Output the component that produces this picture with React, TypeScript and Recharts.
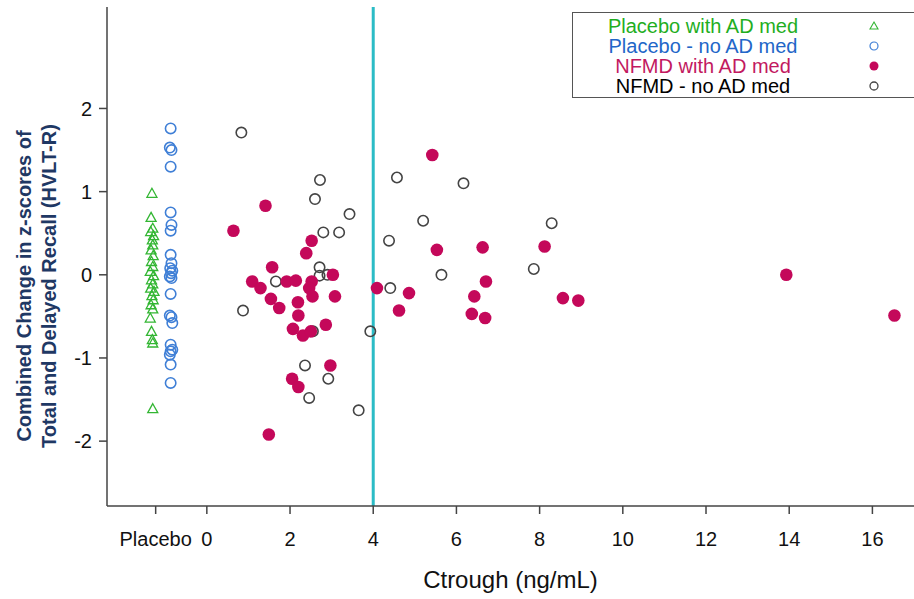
import React from 'react'
import { ScatterChart, Scatter, XAxis, YAxis, ReferenceLine, Legend } from 'recharts'

// Placebo groups sit left of 0 at a fake "Placebo" position
const placeboWithAdMed = [
  { x: -1.32, y: 0.98 }, { x: -1.34, y: 0.69 }, { x: -1.3, y: 0.56 }, { x: -1.35, y: 0.52 },
  { x: -1.28, y: 0.47 }, { x: -1.31, y: 0.42 }, { x: -1.3, y: 0.36 }, { x: -1.34, y: 0.3 },
  { x: -1.29, y: 0.23 }, { x: -1.33, y: 0.16 }, { x: -1.3, y: 0.1 }, { x: -1.36, y: 0.04 },
  { x: -1.28, y: -0.01 }, { x: -1.33, y: -0.06 }, { x: -1.3, y: -0.11 }, { x: -1.35, y: -0.16 },
  { x: -1.27, y: -0.2 }, { x: -1.32, y: -0.25 }, { x: -1.29, y: -0.3 }, { x: -1.34, y: -0.36 },
  { x: -1.3, y: -0.41 }, { x: -1.36, y: -0.52 }, { x: -1.33, y: -0.68 }, { x: -1.31, y: -0.78 },
  { x: -1.3, y: -0.82 }, { x: -1.3, y: -1.61 },
]

const placeboNoAdMed = [
  { x: -0.87, y: 1.76 }, { x: -0.89, y: 1.53 }, { x: -0.85, y: 1.5 }, { x: -0.87, y: 1.3 },
  { x: -0.87, y: 0.75 }, { x: -0.85, y: 0.6 }, { x: -0.87, y: 0.53 }, { x: -0.87, y: 0.24 },
  { x: -0.85, y: 0.14 }, { x: -0.88, y: 0.08 }, { x: -0.83, y: 0.05 }, { x: -0.86, y: 0.02 },
  { x: -0.89, y: -0.02 }, { x: -0.85, y: -0.04 }, { x: -0.87, y: -0.23 }, { x: -0.89, y: -0.49 },
  { x: -0.85, y: -0.51 }, { x: -0.83, y: -0.58 }, { x: -0.87, y: -0.84 }, { x: -0.83, y: -0.9 },
  { x: -0.87, y: -0.92 }, { x: -0.89, y: -0.96 }, { x: -0.87, y: -1.08 }, { x: -0.87, y: -1.3 },
]

const nfmdWithAdMed = [
  { x: 0.64, y: 0.53 }, { x: 1.41, y: 0.83 }, { x: 1.09, y: -0.08 }, { x: 1.29, y: -0.16 },
  { x: 1.57, y: 0.09 }, { x: 1.54, y: -0.29 }, { x: 1.74, y: -0.4 }, { x: 1.92, y: -0.08 },
  { x: 2.14, y: -0.07 }, { x: 2.52, y: 0.41 }, { x: 2.39, y: 0.26 }, { x: 2.52, y: -0.08 },
  { x: 2.46, y: -0.16 }, { x: 2.54, y: -0.26 }, { x: 2.19, y: -0.33 }, { x: 2.2, y: -0.49 },
  { x: 3.03, y: 0.0 }, { x: 3.08, y: -0.26 }, { x: 2.07, y: -0.65 }, { x: 2.31, y: -0.73 },
  { x: 2.5, y: -0.68 }, { x: 2.86, y: -0.6 }, { x: 2.97, y: -1.09 }, { x: 2.05, y: -1.25 },
  { x: 2.2, y: -1.35 }, { x: 1.49, y: -1.92 }, { x: 4.09, y: -0.16 }, { x: 4.86, y: -0.22 },
  { x: 4.62, y: -0.43 }, { x: 5.42, y: 1.44 }, { x: 5.53, y: 0.3 }, { x: 6.63, y: 0.33 },
  { x: 6.71, y: -0.08 }, { x: 6.43, y: -0.26 }, { x: 6.37, y: -0.47 }, { x: 6.69, y: -0.52 },
  { x: 8.12, y: 0.34 }, { x: 8.56, y: -0.28 }, { x: 8.93, y: -0.31 }, { x: 13.93, y: 0.0 },
  { x: 16.53, y: -0.49 },
]

const nfmdNoAdMed = [
  { x: 0.83, y: 1.71 }, { x: 2.72, y: 1.14 }, { x: 2.6, y: 0.91 }, { x: 3.43, y: 0.73 },
  { x: 2.8, y: 0.51 }, { x: 3.18, y: 0.51 }, { x: 2.71, y: 0.09 }, { x: 2.71, y: -0.01 },
  { x: 2.9, y: 0.0 }, { x: 1.66, y: -0.08 }, { x: 0.87, y: -0.43 }, { x: 2.55, y: -0.68 },
  { x: 3.93, y: -0.68 }, { x: 2.36, y: -1.09 }, { x: 2.92, y: -1.25 }, { x: 2.46, y: -1.48 },
  { x: 3.65, y: -1.63 }, { x: 4.57, y: 1.17 }, { x: 6.17, y: 1.1 }, { x: 5.2, y: 0.65 },
  { x: 4.38, y: 0.41 }, { x: 5.64, y: 0.0 }, { x: 4.41, y: -0.16 }, { x: 8.29, y: 0.62 },
  { x: 7.86, y: 0.07 },
]

const xTicks = [-1.23, 0, 2, 4, 6, 8, 10, 12, 14, 16]
const yTicks = [-2, -1, 0, 1, 2]
const cutoff = 4

const legendItems = [
  { label: 'Placebo with AD med', color: '#1fae1f', mark: 'triangle' },
  { label: 'Placebo - no AD med', color: '#2266c8', mark: 'blueCircle' },
  { label: 'NFMD with AD med', color: '#c2195f', mark: 'dot' },
  { label: 'NFMD - no AD med', color: '#000000', mark: 'circle' },
]

const GREEN = '#33b633'
const BLUE = '#3f7fd6'
const MAGENTA = '#c4085a'
const GREY = '#444444'
const FONT = '"Liberation Sans", Arial, sans-serif'

const TriangleMark = (props: any) => {
  const { cx, cy } = props
  return (
    <path
      d={`M${cx},${cy - 5} L${cx + 5},${cy + 4} L${cx - 5},${cy + 4} Z`}
      fill="none"
      stroke={GREEN}
      strokeWidth={1.3}
    />
  )
}

const OpenCircle = (color: string) => (props: any) => (
  <circle cx={props.cx} cy={props.cy} r={5.2} fill="none" stroke={color} strokeWidth={1.6} />
)

const FilledDot = (props: any) => (
  <circle cx={props.cx} cy={props.cy} r={6.3} fill={MAGENTA} stroke="none" />
)

const LegendMark = ({ mark }: { mark: string }) => (
  <svg width={14} height={14}>
    {mark === 'triangle' && <path d="M7,3 L11,10 L3,10 Z" fill="none" stroke={GREEN} strokeWidth={1.1} />}
    {mark === 'blueCircle' && <circle cx={7} cy={7} r={4} fill="none" stroke={BLUE} strokeWidth={1.2} />}
    {mark === 'dot' && <circle cx={7} cy={7} r={4.5} fill={MAGENTA} />}
    {mark === 'circle' && <circle cx={7} cy={7} r={4} fill="none" stroke={GREY} strokeWidth={1.3} />}
  </svg>
)

const LegendBox = () => (
  <div
    style={{
      border: '1px solid #555',
      borderRight: 'none',
      height: 86,
      boxSizing: 'border-box',
      fontFamily: FONT,
      fontSize: 20,
      lineHeight: '20px',
      paddingTop: 3,
    }}
  >
    {legendItems.map((it) => (
      <div key={it.label} style={{ display: 'flex', alignItems: 'center', height: 20 }}>
        <span style={{ width: 260, textAlign: 'center', color: it.color }}>{it.label}</span>
        <span style={{ marginLeft: 34, display: 'flex' }}>
          <LegendMark mark={it.mark} />
        </span>
      </div>
    ))}
  </div>
)

const YTitle = () => (
  <g fontFamily={FONT} fontWeight="bold" fontSize={20} fill="#1f3864">
    <text x={31} y={286} textAnchor="middle" transform="rotate(-90, 31, 286)">
      Combined Change in z-scores of
    </text>
    <text x={56} y={286} textAnchor="middle" transform="rotate(-90, 56, 286)">
      Total and Delayed Recall (HVLT-R)
    </text>
  </g>
)

export default function App() {
  return (
    <div style={{ position: 'absolute', left: 0, top: 0, width: 914, height: 599, background: '#fff', overflow: 'hidden' }}>
      <ScatterChart width={914} height={599} margin={{ top: 7, right: 0, left: 0, bottom: 0 }}>
        <XAxis
          type="number"
          dataKey="x"
          domain={[-2.4, 17]}
          ticks={xTicks}
          interval={0}
          allowDataOverflow
          height={93}
          tickFormatter={(v: number) => (v < 0 ? 'Placebo' : String(v))}
          axisLine={{ stroke: GREY, strokeWidth: 1.5 }}
          tickLine={{ stroke: GREY, strokeWidth: 1.5 }}
          tickSize={8}
          tickMargin={18}
          tick={{ fill: '#111', fontSize: 20, fontFamily: FONT }}
          label={{ value: 'Ctrough (ng/mL)', position: 'insideBottom', offset: 11, fill: '#111', fontSize: 24, fontFamily: FONT }}
        />
        <XAxis
          xAxisId="top"
          orientation="top"
          type="number"
          domain={[-2.4, 17]}
          height={0}
          tick={false}
          tickLine={false}
          axisLine={{ stroke: GREY, strokeWidth: 1.5 }}
        />
        <YAxis
          type="number"
          dataKey="y"
          domain={[-2.78, 3.22]}
          ticks={yTicks}
          interval={0}
          allowDataOverflow
          width={107}
          axisLine={{ stroke: GREY, strokeWidth: 1.5 }}
          tickLine={{ stroke: GREY, strokeWidth: 1.5 }}
          tickSize={8}
          tickMargin={7}
          tick={{ fill: '#111', fontSize: 20, fontFamily: FONT }}
          label={<YTitle />}
        />
        <ReferenceLine x={cutoff} stroke="#2bbcc6" strokeWidth={3} />
        <Scatter data={placeboWithAdMed} shape={TriangleMark} isAnimationActive={false} />
        <Scatter data={placeboNoAdMed} shape={OpenCircle(BLUE)} isAnimationActive={false} />
        <Scatter data={nfmdNoAdMed} shape={OpenCircle(GREY)} isAnimationActive={false} />
        <Scatter data={nfmdWithAdMed} shape={FilledDot} isAnimationActive={false} />
        <Legend
          layout="vertical"
          align="center"
          verticalAlign="middle"
          content={<LegendBox />}
          wrapperStyle={{ left: 572, top: 12, width: 342, height: 86 }}
        />
      </ScatterChart>
    </div>
  )
}
